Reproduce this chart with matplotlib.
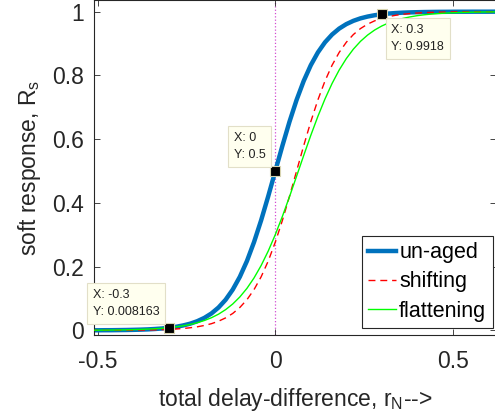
import matplotlib
matplotlib.use("Agg")
import matplotlib.pyplot as plt

plt.rcParams['font.family'] = ['Liberation Sans', 'DejaVu Sans']
plt.rcParams['mathtext.default'] = 'regular'

# delay-difference grid and soft responses
r_n = [-0.52, -0.50, -0.48, -0.46, -0.44, -0.42, -0.40, -0.38, -0.36, -0.34,
       -0.32, -0.30, -0.28, -0.26, -0.24, -0.22, -0.20, -0.18, -0.16, -0.14,
       -0.12, -0.10, -0.08, -0.06, -0.04, -0.02, 0.00, 0.02, 0.04, 0.06,
       0.08, 0.10, 0.12, 0.14, 0.16, 0.18, 0.20, 0.22, 0.24, 0.26,
       0.28, 0.30, 0.32, 0.34, 0.36, 0.38, 0.40, 0.42, 0.44, 0.46,
       0.48, 0.50, 0.52, 0.54, 0.56, 0.58, 0.60, 0.62]

unaged = [0.0002, 0.0003, 0.0005, 0.0006, 0.0009, 0.0012, 0.0017, 0.0023, 0.0031, 0.0043,
          0.0059, 0.0082, 0.0112, 0.0154, 0.0210, 0.0288, 0.0392, 0.0531, 0.0718, 0.0962,
          0.1279, 0.1680, 0.2175, 0.2769, 0.3452, 0.4207, 0.5000, 0.5793, 0.6548, 0.7231,
          0.7825, 0.8320, 0.8721, 0.9038, 0.9282, 0.9469, 0.9608, 0.9712, 0.9790, 0.9846,
          0.9888, 0.9918, 0.9941, 0.9957, 0.9969, 0.9977, 0.9983, 0.9988, 0.9991, 0.9994,
          0.9995, 0.9997, 0.9998, 0.9998, 0.9999, 0.9999, 0.9999, 1.0000]

shifting = [0.0001, 0.0001, 0.0002, 0.0002, 0.0003, 0.0005, 0.0006, 0.0009, 0.0012, 0.0017,
            0.0023, 0.0031, 0.0043, 0.0059, 0.0082, 0.0112, 0.0154, 0.0210, 0.0288, 0.0392,
            0.0531, 0.0718, 0.0962, 0.1279, 0.1680, 0.2175, 0.2769, 0.3452, 0.4207, 0.5000,
            0.5793, 0.6548, 0.7231, 0.7825, 0.8320, 0.8721, 0.9038, 0.9282, 0.9469, 0.9608,
            0.9712, 0.9790, 0.9846, 0.9888, 0.9918, 0.9941, 0.9957, 0.9969, 0.9977, 0.9983,
            0.9988, 0.9991, 0.9994, 0.9995, 0.9997, 0.9998, 0.9998, 0.9999]

flattening = [0.0005, 0.0006, 0.0008, 0.0011, 0.0014, 0.0018, 0.0024, 0.0031, 0.0040, 0.0051,
              0.0067, 0.0086, 0.0112, 0.0144, 0.0186, 0.0240, 0.0309, 0.0397, 0.0509, 0.0651,
              0.0828, 0.1048, 0.1318, 0.1645, 0.2034, 0.2488, 0.3005, 0.3578, 0.4195, 0.4838,
              0.5486, 0.6118, 0.6715, 0.7261, 0.7747, 0.8168, 0.8526, 0.8824, 0.9068, 0.9265,
              0.9424, 0.9550, 0.9650, 0.9728, 0.9789, 0.9836, 0.9874, 0.9902, 0.9924, 0.9941,
              0.9955, 0.9965, 0.9973, 0.9979, 0.9984, 0.9988, 0.9990, 0.9993]

# data tips on the un-aged curve
tip_x = [-0.3, 0.0, 0.3]
tip_y = [0.008163, 0.5, 0.9918]
tip_text = ['X: -0.3\nY: 0.008163', 'X: 0\nY: 0.5', 'X: 0.3\nY: 0.9918']
tip_offset = [(-7, 7), (-7, 7), (7, -7)]
tip_align = [('right', 'bottom'), ('right', 'bottom'), ('left', 'top')]

xticks = [-0.5, 0, 0.5]
xticklabels = ['-0.5', '0', '0.5']
yticks = [0, 0.2, 0.4, 0.6, 0.8, 1]
yticklabels = ['0', '0.2', '0.4', '0.6', '0.8', '1']

fig = plt.figure(figsize=(4.95, 4.19), dpi=100)
ax = fig.add_axes([94 / 495, 84 / 419, 402 / 495, 334.5 / 419])

ax.axvline(0, color='m', linestyle=':', linewidth=0.9, alpha=0.7, zorder=1)
ax.plot(r_n, unaged, color='#0072BD', linewidth=3.2, label='un-aged', zorder=2)
ax.plot(r_n, shifting, color='r', linestyle=(0, (5, 3.5)), linewidth=1.0,
        label='shifting', zorder=3)
ax.plot(r_n, flattening, color='#00ff00', linewidth=1.0, label='flattening', zorder=3)

ax.plot(tip_x, tip_y, linestyle='none', marker='s', markersize=6.5,
        markerfacecolor='k', markeredgecolor='#d8d4b0', markeredgewidth=0.8, zorder=5)
for x, y, txt, off, (ha, va) in zip(tip_x, tip_y, tip_text, tip_offset, tip_align):
    ax.annotate(txt, xy=(x, y), xytext=off, textcoords='offset points',
                ha=ha, va=va, multialignment='left', fontsize=9, color='#222222',
                linespacing=1.6,
                bbox=dict(boxstyle='square,pad=0.45', facecolor='#ffffef',
                          edgecolor='#e2dfc8', linewidth=0.8),
                zorder=6)

ax.set_xlim(-0.511, 0.622)
ax.set_ylim(-0.0145, 1.035)
ax.set_xticks(xticks)
ax.set_xticklabels(xticklabels)
ax.set_yticks(yticks)
ax.set_yticklabels(yticklabels)
ax.tick_params(direction='in', length=4, width=0.6, top=True, right=True,
               labelsize=16.5, colors='#262626', pad=7)
ax.tick_params(axis='x', pad=11)
for spine in ax.spines.values():
    spine.set_color('#262626')
    spine.set_linewidth(0.8)

ax.set_xlabel('total delay-difference, r$_N$-->', fontsize=16.5, color='#262626',
              labelpad=9)
ax.set_ylabel('soft response, R$_s$', fontsize=16.5, color='#262626', labelpad=7)

leg = ax.legend(loc='lower right', bbox_to_anchor=(0.992, 0.021), borderaxespad=0,
                fontsize=15.5, fancybox=False, edgecolor='#262626', framealpha=1,
                handlelength=1.3, handletextpad=0.15, labelspacing=0.38,
                borderpad=0.3)
leg.get_frame().set_linewidth(0.8)

fig.savefig('out.png', dpi=100)
